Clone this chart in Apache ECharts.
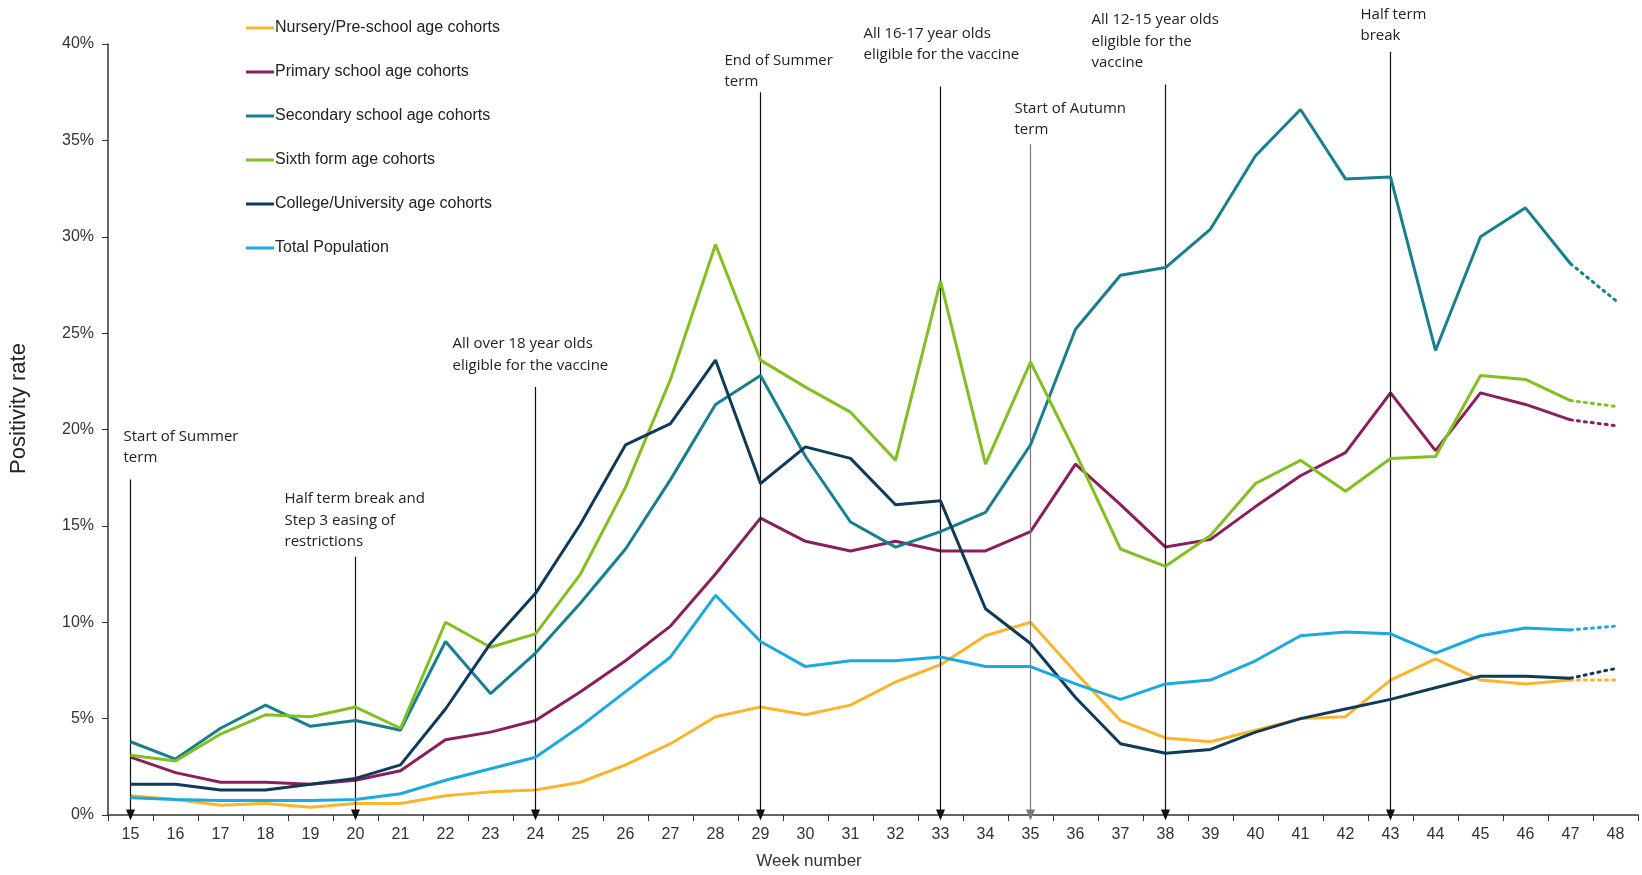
<!DOCTYPE html>
<html><head><meta charset="utf-8">
<script src="https://cdn.jsdelivr.net/npm/echarts@6/dist/echarts.min.js"></script>
<style>html,body{margin:0;padding:0;background:#fff}#c{width:1642px;height:875px}</style>
</head><body><div id="c"></div>
<script>
// ---- data ----
const weeks = ['15','16','17','18','19','20','21','22','23','24','25','26','27','28','29','30','31','32','33','34','35','36','37','38','39','40','41','42','43','44','45','46','47','48'];
const seriesNames = ['Nursery/Pre-school age cohorts','Primary school age cohorts','Secondary school age cohorts','Sixth form age cohorts','College/University age cohorts','Total Population'];
// weeks 15..47 (solid)
const nursery   = [1.0,0.8,0.5,0.6,0.4,0.6,0.6,1.0,1.2,1.3,1.7,2.6,3.7,5.1,5.6,5.2,5.7,6.9,7.8,9.3,10.0,7.4,4.9,4.0,3.8,4.4,5.0,5.1,7.0,8.1,7.0,6.8,7.0];
const primary   = [3.0,2.2,1.7,1.7,1.6,1.8,2.3,3.9,4.3,4.9,6.4,8.0,9.8,12.5,15.4,14.2,13.7,14.2,13.7,13.7,14.7,18.2,16.1,13.9,14.3,16.0,17.6,18.8,21.9,18.9,21.9,21.3,20.5];
const secondary = [3.8,2.9,4.5,5.7,4.6,4.9,4.4,9.0,6.3,8.4,11.0,13.8,17.4,21.3,22.8,18.6,15.2,13.9,14.7,15.7,19.2,25.2,28.0,28.4,30.4,34.2,36.6,33.0,33.1,24.1,30.0,31.5,28.6];
const sixth     = [3.1,2.8,4.2,5.2,5.1,5.6,4.5,10.0,8.7,9.4,12.5,17.0,22.6,29.6,23.6,22.2,20.9,18.4,27.7,18.2,23.5,18.8,13.8,12.9,14.5,17.2,18.4,16.8,18.5,18.6,22.8,22.6,21.5];
const college   = [1.6,1.6,1.3,1.3,1.6,1.9,2.6,5.5,8.9,11.5,15.1,19.2,20.3,23.6,17.2,19.1,18.5,16.1,16.3,10.7,8.9,6.1,3.7,3.2,3.4,4.3,5.0,5.5,6.0,6.6,7.2,7.2,7.1];
const total     = [0.9,0.8,0.75,0.75,0.75,0.8,1.1,1.8,2.4,3.0,4.6,6.4,8.2,11.4,9.0,7.7,8.0,8.0,8.2,7.7,7.7,6.8,6.0,6.8,7.0,8.0,9.3,9.5,9.4,8.4,9.3,9.7,9.6];
// week 48 (dotted projection)
const week48 = [7.0,20.2,26.7,21.2,7.6,9.8];
const yTicks = [0,5,10,15,20,25,30,35,40];
// annotations: week, arrow top value (%), text
const annWeeks = ['15','20','24','29','33','35','38','43'];
const annTops  = [17.4,13.4,22.2,37.5,37.8,34.8,37.9,39.6];
const annTexts = ['Start of Summer\nterm','Half term break and\nStep 3 easing of\nrestrictions','All over 18 year olds\neligible for the vaccine','End of Summer\nterm','All 16-17 year olds\neligible for the vaccine','Start of Autumn\nterm','All 12-15 year olds\neligible for the\nvaccine','Half term\nbreak'];

// ---- layout / style ----
const colors = ['#F9B52E','#8A1F5F','#177F8D','#84BF22','#0F3A58','#1BA9DF'];
const annLabelTop = [20.2,16.95,25.0,39.7,41.1,37.2,41.8,42.1];
const annLabelDx  = [-7,-71,-83,-36,-77,-16,-74,-30];

const solid = [nursery,primary,secondary,sixth,college,total];
const series = [];
solid.forEach((arr,i)=>{
  series.push({name:seriesNames[i],type:'line',data:arr.slice(),symbol:'none',
    lineStyle:{width:3,color:colors[i]},itemStyle:{color:colors[i]},z:3+i});
});
solid.forEach((arr,i)=>{
  const d = weeks.map(()=>null);
  d[arr.length-1] = arr[arr.length-1];
  d[arr.length] = week48[i];
  series.push({name:seriesNames[i]+' (proj)',type:'line',data:d,symbol:'none',
    lineStyle:{width:3,color:colors[i],type:[2,5],cap:'round'},itemStyle:{color:colors[i]},z:3+i});
});
series.push({type:'line',data:[],silent:true,
  markLine:{silent:true,symbol:['none','triangle'],symbolSize:[9,11],animation:false,
    label:{show:false},
    data: annWeeks.map((w,i)=>[
      {coord:[w,annTops[i]],lineStyle:{color: w==='35'?'#777':'#111',width:1.2,type:'solid'}},
      {coord:[w,0]}
    ])}});

const chart = echarts.init(document.getElementById('c'));
chart.setOption({
  animation:false,
  grid:{left:105,right:4,top:44,bottom:53},
  legend:{orient:'vertical',left:241,top:15,itemGap:28,icon:'rect',itemWidth:28,itemHeight:3,
    data:seriesNames,textStyle:{fontFamily:'Liberation Sans',fontSize:16,color:'#222',padding:[0,0,0,-4]}},
  xAxis:{type:'category',data:weeks,boundaryGap:true,
    name:'Week number',nameLocation:'middle',nameGap:38,
    nameTextStyle:{fontFamily:'Liberation Sans',fontSize:17,color:'#333',padding:[0,128,0,0]},
    axisLine:{lineStyle:{color:'#333',width:1.5}},
    axisTick:{show:true,alignWithLabel:false,length:6,lineStyle:{color:'#333'}},
    axisLabel:{fontFamily:'Liberation Sans',fontSize:16,color:'#333',margin:12}},
  yAxis:{type:'value',min:0,max:40,interval:5,
    name:'Positivity rate',nameLocation:'middle',nameGap:78,nameRotate:90,
    nameTextStyle:{fontFamily:'Liberation Sans',fontSize:22,color:'#222',padding:[0,0,0,42]},
    axisLine:{show:true,lineStyle:{color:'#333',width:1.5}},
    axisTick:{show:true,length:6,lineStyle:{color:'#333'}},
    splitLine:{show:false},
    axisLabel:{fontFamily:'Liberation Sans',fontSize:16,color:'#333',margin:14,
      formatter:v=>yTicks.includes(v)?v+'%':''}},
  series:series
});
const graphics = annWeeks.map((w,i)=>{
  const p = chart.convertToPixel({xAxisIndex:0,yAxisIndex:0},[w,annLabelTop[i]]);
  return {type:'text',left:p[0]+annLabelDx[i],top:p[1],silent:true,
    style:{text:annTexts[i],fontFamily:'Open Sans',fontSize:15,lineHeight:21.5,fill:'#222'}};
});
chart.setOption({graphic:graphics});
</script></body></html>
